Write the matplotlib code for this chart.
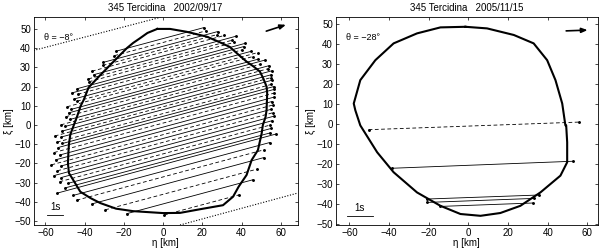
import matplotlib
matplotlib.use("Agg")
import matplotlib.pyplot as plt

plt.rcParams["font.family"] = ["Liberation Sans", "DejaVu Sans"]
plt.rcParams["font.size"] = 7

# ---- 2002/09/17 event ----
prof1_eta = [-3, 3.5, 12, 22.2, 29, 34, 38.5, 42.5, 46, 49.3, 51, 52.7, 53, 52.7, 52.2, 50.8,
             50.2, 48.3, 45.1, 42.5, 38.5, 35.6, 30.5, 18.8, 8.6, 0, -15.3, -24, -32, -37,
             -42.2, -46.4, -48, -48.5, -48.3, -48, -47.3, -45.5, -43.9, -42, -40.5, -38,
             -32, -24.4, -18.5, -15.3, -12, -8, -3]
prof1_xi = [50, 50, 48.5, 46, 43, 40.6, 36.5, 33, 30.5, 27.8, 24.3, 20, 16.5, 7.8, 4.3, 0,
            -4.3, -13, -18.2, -26, -32, -37.3, -41.7, -43.8, -45.7, -45.8, -44.8, -43.5,
            -40.6, -38, -34.7, -27.6, -25, -20, -15, -10, -5, 0, 4.3, 10, 13, 19.5, 26,
            33.9, 40, 42.7, 45, 47.9, 50]

# chords: eta start, xi start, eta end, xi end, dashed?
ch1_x1 = [-24, -24.8, -30.5, -30.8, -36.3, -35.3, -38.1, -37.9, -43.8, -46.5, -43.5, -45.2,
          -43.9, -49, -46.7, -48.2, -49.7, -47.5, -52.1, -49.8, -51.6, -55.2, -51.8, -54.1,
          -51.3, -53.5, -55.6, -52.7, -54.8, -56.9, -52, -53.9, -55.6, -51.9, -52.8, -48.7,
          -49.9, -53.9, -45.8, -44.1, -36.2, -29.5, -18.5, 0.5]
ch1_y1 = [38.4, 36.1, 32.6, 31.0, 28.0, 26.2, 24.0, 22.5, 18.9, 16.7, 16.0, 13.6, 12.4, 9.5,
          8.2, 6.3, 4.3, 2.9, 0.1, -0.7, -3.2, -5.7, -6.2, -8.9, -9.6, -11.7, -14.3, -15.6,
          -18.1, -20.7, -21.3, -23.8, -26.3, -27.3, -29.5, -30.4, -32.7, -35.4, -36.6, -39.1,
          -41.0, -44.1, -46.1, -46.8]
ch1_x2 = [20.8, 21.8, 27.7, 27.3, 31.2, 37.1, 35.1, 36.2, 41.8, 41, 40.3, 45, 48.2, 45.6,
          48.2, 51.9, 49.1, 54, 53.5, 55.3, 55.2, 54.7, 55.4, 55, 56.3, 56.4, 56.5, 56.4, 55.3,
          56.2, 55.1, 55.9, 56.4, 55.7, 54.2, 54.9, 54.5, 57.4, 54.3, 51.3, 51.4, 47.6, 45.6,
          38.8]
ch1_y2 = [50.7, 49.0, 48.6, 47.0, 46.6, 46.2, 44.1, 43.0, 42.5, 40.8, 39.1, 38.4, 37.7, 35.6,
          34.2, 33.8, 31.5, 30.9, 29.3, 28.2, 26.2, 24.6, 23.3, 21.1, 20.0, 18.5, 16.6, 14.5,
          12.2, 10.5, 8.2, 6.4, 4.6, 2.3, -0.1, -1.8, -4.1, -4.7, -9.1, -12.9, -16.9, -23.0,
          -28.5, -36.3]
ch1_dash = [0, 1, 0, 1, 1, 0, 1, 1, 0, 0, 1, 0, 1, 1, 0, 0, 1, 0, 1, 0, 0, 1, 0, 1, 0, 0,
            1, 0, 0, 1, 0, 1, 0, 0, 1, 0, 0, 0, 0, 1, 0, 1, 0, 1]

# limiting lines (dotted)
lim1_eta = [[-66, -1.5], [8.6, 68.5]]
lim1_xi = [[38.8, 56], [-52, -35.4]]

# ---- 2005/11/15 event ----
prof2_eta = [-1.5, 9.4, 22.9, 32.9, 39.7, 43.9, 47.3, 48.9, 49.3, 49.8, 49.8, 46.4, 36.3,
             26.2, 16.1, 6.1, -4, -14.1, -25.9, -37.7, -46, -54.5, -57, -57.8, -54.5, -46.9,
             -37.7, -25.9, -14.1, -1.5]
prof2_xi = [48.6, 47.8, 44.5, 40.3, 31.9, 21.9, 10.2, -0.75, -0.75, -9.2, -19.2, -25.9,
            -34.3, -41, -44.6, -46, -45.1, -41, -34.3, -24.2, -14.2, -0.75, 6.8, 10.2, 21.9,
            31.9, 40.3, 45.3, 48.3, 48.6]

ch2_x1 = [-50.3, -38.5, -20.8, -20.8, -14.1]
ch2_y1 = [-2.9, -22.2, -37.6, -39.3, -41.3]
ch2_x2 = [55.6, 52.6, 35.5, 32.9, 32.4]
ch2_y2 = [0.9, -18.7, -35.6, -37.3, -39.6]
ch2_dash = [1, 0, 0, 0, 0]

PANELS = [
    dict(title="345 Tercidina   2002/09/17", theta="θ = −8°",
         prof=(prof1_eta, prof1_xi), chords=(ch1_x1, ch1_y1, ch1_x2, ch1_y2, ch1_dash),
         lims=(lim1_eta, lim1_xi), xlim=(-66, 68.5), ylim=(-52, 56.2),
         arrow=((51.2, 48.4), (63.9, 52.6)), bar=(-59.1, -51.0, -46.9), rect=[0.056, 0.1, 0.44, 0.832]),
    dict(title="345 Tercidina   2005/11/15", theta="θ = −28°",
         prof=(prof2_eta, prof2_xi), chords=(ch2_x1, ch2_y1, ch2_x2, ch2_y2, ch2_dash),
         lims=None, xlim=(-66.9, 65.2), ylim=(-50.6, 53.5),
         arrow=((47.9, 46.5), (61.5, 47.0)), bar=(-61.2, -48.1, -46.0), rect=[0.5595, 0.1, 0.4367, 0.832]),
]

fig = plt.figure(figsize=(6, 2.5), dpi=100)
for p in PANELS:
    ax = fig.add_axes(p["rect"])
    x1, y1, x2, y2, dsh = p["chords"]
    for a, b, c, d, ds in zip(x1, y1, x2, y2, dsh):
        if ds:
            ax.plot([a, c], [b, d], color="k", lw=0.6, dashes=(4.5, 3))
        else:
            ax.plot([a, c], [b, d], color="k", lw=0.6)
        ax.plot([a, c], [b, d], ls="none", marker=".", ms=2.2, color="k")
    ax.plot(p["prof"][0], p["prof"][1], color="k", lw=1.5)
    if p["lims"]:
        for le, lx in zip(*p["lims"]):
            ax.plot(le, lx, color="k", lw=0.8, ls=(0, (1, 1.5)))
    ax.annotate("", xy=p["arrow"][1], xytext=p["arrow"][0],
                arrowprops=dict(arrowstyle="-|>,head_length=0.5,head_width=0.2", color="k", lw=1.2))
    bx0, bx1, by = p["bar"]
    ax.plot([bx0, bx1], [by, by], color="k", lw=0.6)
    ax.text((bx0 + bx1) / 2, by + 1.5, "1s", ha="center", va="bottom", fontsize=7)
    ax.text(0.04, 0.9, p["theta"], transform=ax.transAxes, ha="left", va="center", fontsize=6.5)
    ax.set_xlim(*p["xlim"])
    ax.set_ylim(*p["ylim"])
    ax.set_xticks(range(-60, 61, 20))
    ax.set_yticks(range(-50, 51, 10))
    ax.tick_params(direction="in", length=2.5, width=0.5, top=True, right=True, pad=2, labelsize=7)
    for s in ax.spines.values():
        s.set_linewidth(0.6)
    ax.set_title(p["title"], fontsize=7, pad=4)
    ax.set_xlabel("η [km]", labelpad=0)
    ax.set_ylabel("ξ [km]", labelpad=0)

fig.savefig("out.png", dpi=100)
